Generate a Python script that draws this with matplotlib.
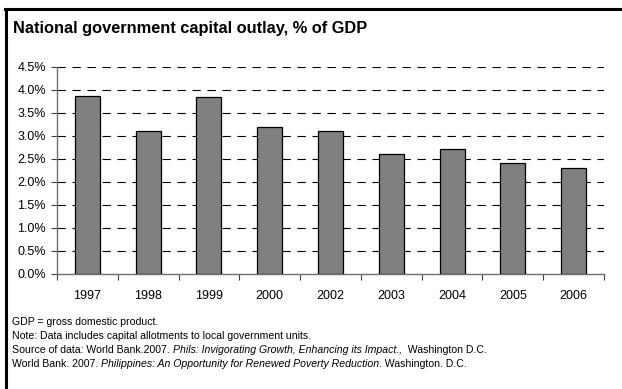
import numpy as np
import matplotlib.pyplot as plt
from matplotlib.lines import Line2D

plt.rcParams['font.family'] = ['Liberation Sans', 'DejaVu Sans']

# 資料：各年度資本支出占 GDP 比例
years = ['1997', '1998', '1999', '2000', '2002', '2003', '2004', '2005', '2006']
outlay_pct = [3.87, 3.11, 3.84, 3.19, 3.10, 2.60, 2.70, 2.40, 2.30]
y_ticks = [0.0, 0.5, 1.0, 1.5, 2.0, 2.5, 3.0, 3.5, 4.0, 4.5]

title = 'National government capital outlay, % of GDP'
notes = [
    [('GDP = gross domestic product.', 'normal')],
    [('Note: Data includes capital allotments to local government units.', 'normal')],
    [('Source of data: World Bank.2007. ', 'normal'),
     ('Phils: Invigorating Growth, Enhancing its Impact.,', 'italic'),
     ('  Washington D.C.', 'normal')],
    [('World Bank. 2007. ', 'normal'),
     ('Philippines: An Opportunity for Renewed Poverty Reduction', 'italic'),
     ('. Washington. D.C.', 'normal')],
]

W, H = 622, 389
fig = plt.figure(figsize=(W / 100, H / 100), dpi=100)
fig.patch.set_facecolor('white')

# 外框：上緣與左緣
fig.add_artist(Line2D([5 / W, 1], [1 - 9 / H, 1 - 9 / H], color='black', lw=2.2))
fig.add_artist(Line2D([5.5 / W, 5.5 / W], [0, 1 - 9 / H], color='black', lw=2.2))

fig.text(13 / W, 1 - 29 / H, title, fontsize=11.8, fontweight='bold', va='center', ha='left')

ax = fig.add_axes([57 / W, 1 - 273.7 / H, (604 - 57) / W, (273.7 - 66.7) / H])
x = np.arange(len(years))
ax.bar(x, outlay_pct, width=0.41, color='#808080', edgecolor='black', linewidth=0.9, zorder=3)

ax.set_xlim(-0.5, len(years) - 0.5)
ax.set_ylim(0, 4.5)
ax.set_yticks(y_ticks)
ax.set_yticklabels([f'{v:.1f}%' for v in y_ticks], fontsize=9)
for v in y_ticks[1:]:
    ax.axhline(v, color='black', lw=0.8, dashes=(7.5, 6), zorder=1)

# x 軸刻度放在類別邊界，標籤置中
ax.set_xticks(np.arange(len(years) + 1) - 0.5)
ax.set_xticklabels([])
ax.set_xticks(x, minor=True)
ax.set_xticklabels(years, minor=True, fontsize=9)
ax.tick_params(axis='x', which='minor', length=0, pad=12)
ax.tick_params(axis='x', which='major', length=4, width=0.8, color='#404040')
ax.tick_params(axis='y', length=4.5, width=0.8, color='#404040', pad=3.5)

for side in ['top', 'right']:
    ax.spines[side].set_visible(False)
for side in ['left', 'bottom']:
    ax.spines[side].set_color('#707070')
    ax.spines[side].set_linewidth(1.0)

# 附註：逐段繪製，斜體部分接續在後
fig.canvas.draw()
renderer = fig.canvas.get_renderer()
y0 = 322
for i, line in enumerate(notes):
    xpos = 12
    for seg, style in line:
        t = fig.text(xpos / W, 1 - (y0 + 14 * i) / H, seg, fontsize=7.6,
                     style=style, va='center', ha='left')
        bb = t.get_window_extent(renderer)
        xpos += bb.width

fig.savefig('out.png', dpi=100)
plt.close(fig)
